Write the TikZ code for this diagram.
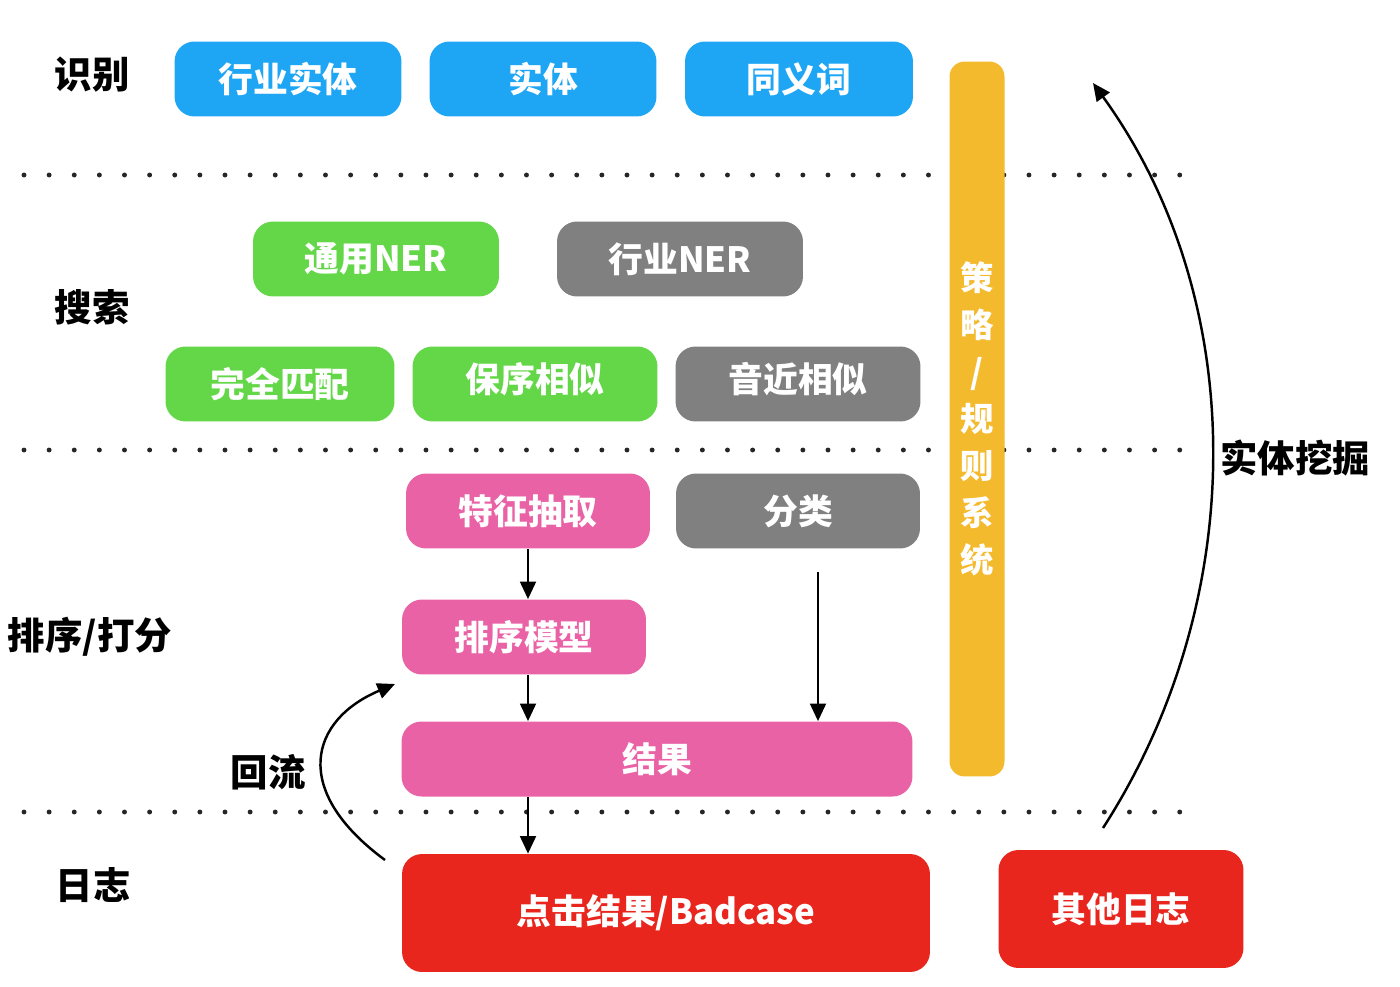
\documentclass[tikz,border=0pt]{standalone}
\usepackage{fontspec}
\setmainfont{Noto Sans CJK SC}
\usetikzlibrary{arrows.meta}
\definecolor{cblue}{RGB}{30,166,245}
\definecolor{cgreen}{RGB}{99,215,72}
\definecolor{cgray}{RGB}{128,128,128}
\definecolor{cpink}{RGB}{234,98,166}
\definecolor{cred}{RGB}{232,38,30}
\definecolor{cyellow}{RGB}{244,186,45}
\tikzset{
  box/.style={rounded corners=0.4cm, minimum width=4.9cm, minimum height=1.5cm, inner sep=0pt, text=white, font=\fontsize{19.8}{22}\selectfont\bfseries},
  lab/.style={font=\fontsize{21.3}{24}\selectfont\bfseries, text=black},
  dotline/.style={line width=2.8pt, dash pattern=on 0pt off 14.3pt, line cap=round, black!85},
  arr/.style={-{Triangle[length=10pt,width=9pt]}, line width=1.4pt},
}
\begin{document}
\begin{tikzpicture}[x=0.02cm,y=-0.02cm]
\useasboundingbox (0,0) rectangle (1400,987);
% dotted separators
\coordinate (d1a) at (24,175); \coordinate (d1b) at (1190,175);
\coordinate (d2a) at (24,450); \coordinate (d2b) at (1190,450);
\coordinate (d3a) at (24,812); \coordinate (d3b) at (1190,812);
\draw[dotline] (d1a) -- (d1b);
\draw[dotline] (d2a) -- (d2b);
\draw[dotline] (d3a) -- (d3b);
% row labels
\node[lab] (l1) at (92,75) {识别};
\node[lab] (l2) at (92,307) {搜索};
\node[lab] (l3) at (90,637) {排序/打分};
\node[lab] (l4) at (268,772) {回流};
\node[lab] (l5) at (93,885) {日志};
\node[lab] (l6) at (1295,458) {实体挖掘};
% identification
\node[box, fill=cblue, minimum width=4.54cm] (hysti) at (288,79) {行业实体};
\node[box, fill=cblue, minimum width=4.54cm] (sti) at (543,79) {实体};
\node[box, fill=cblue, minimum width=4.56cm] (tyc) at (799,79) {同义词};
% search
\node[box, fill=cgreen, minimum width=4.92cm] (tyner) at (376,259) {通用NER};
\node[box, fill=cgray, minimum width=4.92cm] (hyner) at (680,259) {行业NER};
\node[box, fill=cgreen, minimum width=4.58cm] (wqpp) at (280,384) {完全匹配};
\node[box, fill=cgreen, minimum width=4.9cm] (bxxs) at (535,384) {\raisebox{8pt}{保序相似}};
\node[box, fill=cgray, minimum width=4.9cm] (yjxs) at (798,384) {\raisebox{8pt}{音近相似}};
% ranking
\node[box, fill=cpink, minimum width=4.88cm] (tzcq) at (528,511) {特征抽取};
\node[box, fill=cgray, minimum width=4.88cm] (fl) at (798,511) {分类};
\node[box, fill=cpink, minimum width=4.88cm] (pxmx) at (524,637) {排序模型};
\node[box, fill=cpink, minimum width=10.22cm] (jg) at (657,759) {结果};
% logs
\node[box, fill=cred, minimum width=10.56cm, minimum height=2.36cm] (djjg) at (666,913) {点击结果/Badcase};
\node[box, fill=cred, minimum width=4.9cm, minimum height=2.36cm] (qtrz) at (1121,909) {其他日志};
% strategy bar
\node[box, fill=cyellow, minimum width=1.1cm, minimum height=14.3cm, rounded corners=0.3cm, align=center, font=\fontsize{19}{26.7}\selectfont\bfseries] (clgz) at (977,419) {策\\略\\/\\规\\则\\系\\统};
% arrows
\coordinate (a1s) at (528,552); \coordinate (a1e) at (528,597);
\draw[arr] (tzcq.south -| a1s) -- (pxmx.north -| a1e);
\draw[arr] (pxmx.south -| a1s) -- (jg.north -| a1e);
\coordinate (a2) at (818,572);
\draw[arr] (a2) -- (jg.north -| a2);
\draw[arr] (jg.south -| a1s) -- (djjg.north -| a1e);
% backflow curve
\coordinate (bf1) at (385,860);
\coordinate (bf2) at (395,684);
\draw[arr] (bf1) .. controls (290,790) and (310,720) .. (bf2);
% entity mining curve
\coordinate (em1) at (1103,828);
\coordinate (em2) at (1093,83);
\draw[arr] (em1) .. controls (1250,600) and (1250,300) .. (em2);
\end{tikzpicture}
\end{document}
